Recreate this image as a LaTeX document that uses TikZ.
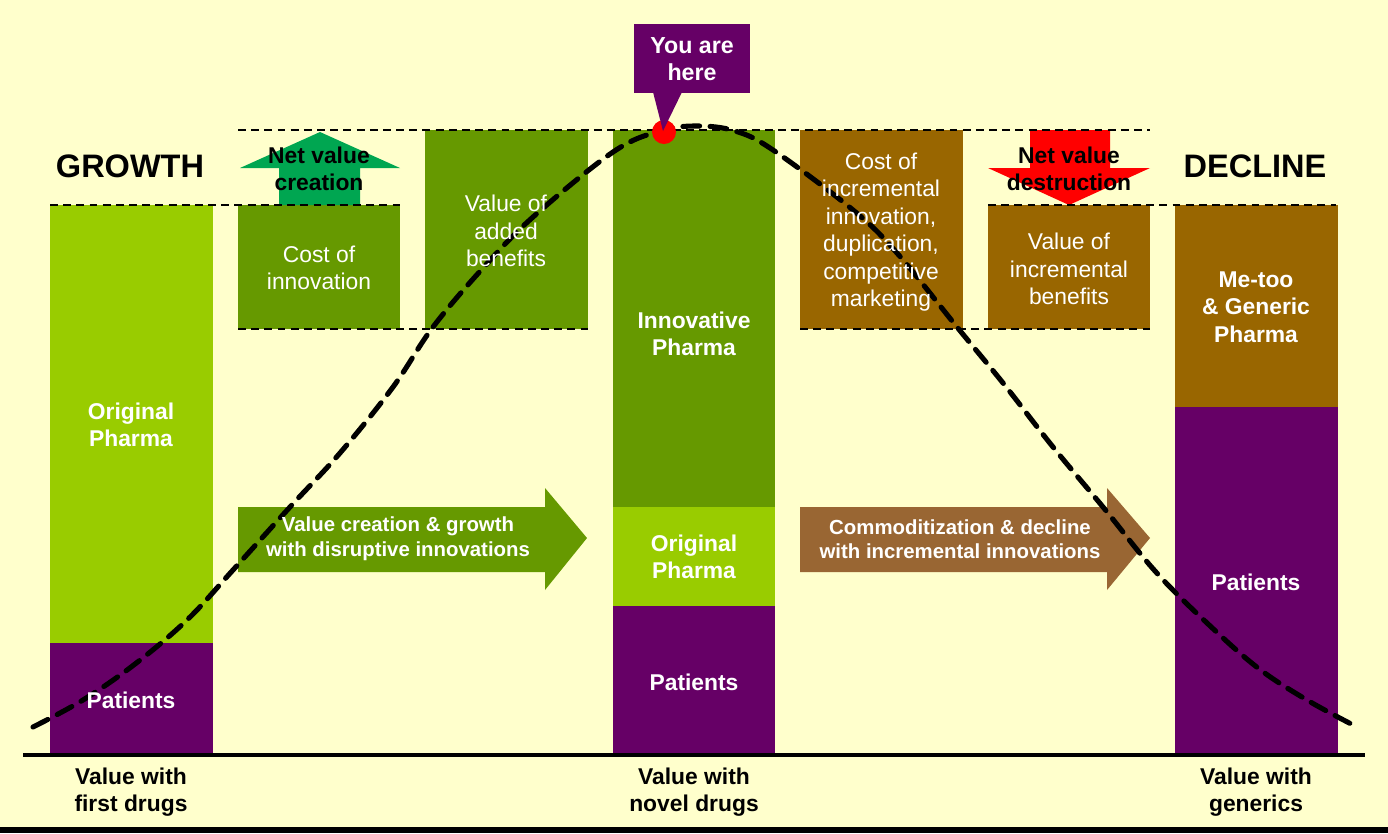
\documentclass[tikz,border=0pt]{standalone}
\usepackage{fontspec}
\setmainfont{Liberation Sans}
\definecolor{bg}{HTML}{FFFFCC}
\definecolor{lgreen}{HTML}{99CC00}
\definecolor{dgreen}{HTML}{669900}
\definecolor{purp}{HTML}{660066}
\definecolor{brn}{HTML}{996600}
\definecolor{brnarrow}{HTML}{996633}
\definecolor{netgreen}{HTML}{00A651}
\tikzset{
  wb/.style={text=white, align=center, font=\fontsize{13}{15.6}\selectfont\bfseries},
  wr/.style={text=white, align=center, font=\fontsize{13}{15.6}\selectfont},
  kb/.style={text=black, align=center, font=\fontsize{13}{15.6}\selectfont\bfseries},
  big/.style={text=black, font=\fontsize{18.5}{22}\selectfont\bfseries},
  aw/.style={text=white, align=center, font=\fontsize{11.6}{14}\selectfont\bfseries},
  thindash/.style={line width=1.1pt, dash pattern=on 4.5pt off 3pt},
  curvedash/.style={line width=2.9pt, dash pattern=on 9.5pt off 6pt, line cap=round}
}
\begin{document}
\begin{tikzpicture}[x=0.02cm, y=-0.02cm]
\fill[bg] (0,0) rectangle (1388,833);
\useasboundingbox (0,0) rectangle (1388,833);
% bottom strip
\fill[black] (0,827) rectangle (1388,833);

% left bar
\fill[lgreen] (50,205) rectangle (213,643);
\fill[purp] (50,643) rectangle (213,755);
% middle bar
\fill[dgreen] (613,130) rectangle (775,507);
\fill[lgreen] (613,507) rectangle (775,606);
\fill[purp] (613,606) rectangle (775,755);
% right bar
\fill[brn] (1175,205) rectangle (1338,407);
\fill[purp] (1175,407) rectangle (1338,755);

% top boxes
\fill[dgreen] (238,205) rectangle (400,329);
\fill[dgreen] (425,130) rectangle (588,329);
\fill[brn] (800,130) rectangle (963,329);
\fill[brn] (988,205) rectangle (1150,329);

% net value arrows
\fill[netgreen] (279,205) -- (279,168) -- (240,168) -- (320,132) -- (400,168) -- (360,168) -- (360,205) -- cycle;
\fill[red] (1030,130) -- (1030,168) -- (988,168) -- (1069,205) -- (1150,168) -- (1110,168) -- (1110,130) -- cycle;

% big arrows
\fill[dgreen] (238,507) -- (545,507) -- (545,488) -- (587,538) -- (545,590) -- (545,572) -- (238,572) -- cycle;
\fill[brnarrow] (800,507) -- (1107,507) -- (1107,488) -- (1150,538) -- (1107,590) -- (1107,572) -- (800,572) -- cycle;

% dashed guide lines
\draw[thindash] (238,130) -- (1150,130);
\draw[thindash] (50,205) -- (400,205);
\draw[thindash] (988,205) -- (1336,205);
\draw[thindash] (238,329) -- (588,329);
\draw[thindash] (800,329) -- (1150,329);

% baseline
\draw[line width=2.6pt] (23,755) -- (1365,755);

% bell curve
\draw[curvedash] plot[smooth, tension=0.6] coordinates {
 (33,727) (83,700) (135,664) (187,620) (233,570) (290,507) (340,453) (393,387) (433,327)
 (483,268) (533,217) (613,152) (660,131) (697,126) (735,131) (773,150) (853,210) (897,253)
 (957,327) (1003,383) (1053,447) (1103,507) (1155,571) (1207,623) (1258,668) (1307,700) (1357,727)};

% you are here
\fill[red] (664,132) circle (12);
\fill[purp] (634,24) rectangle (750,93);
\fill[purp] (653,92) -- (682,92) -- (663,131) -- cycle;
\node[wb, font=\fontsize{13.2}{15.3}\selectfont\bfseries] (here) at (692,59) {You are\\here};

% headings
\node[big] (growth) at (130,166) {GROWTH};
\node[big] (decline) at (1255,166) {DECLINE};

% texts
\node[kb] (nvc) at (319,169) {Net value\\creation};
\node[kb] (nvd) at (1069,169) {Net value\\destruction};
\node[wr] (coi) at (319,268) {Cost of\\innovation};
\node[wr] (vab) at (506,231) {Value of\\added\\benefits};
\node[wr] (cii) at (881,232) {Cost of\\incremental\\innovation,\\duplication,\\competitive\\marketing};
\node[wr] (vib) at (1069,269) {Value of\\incremental\\benefits};
\node[wb] (metoo) at (1256,307) {Me-too\\\& Generic\\Pharma};
\node[wb] (orig1) at (131,425) {Original\\Pharma};
\node[wb] (innov) at (694,334) {Innovative\\Pharma};
\node[wb] (orig2) at (694,557) {Original\\Pharma};
\node[wb] (pat1) at (131,700) {Patients};
\node[wb] (pat2) at (694,682) {Patients};
\node[wb] (pat3) at (1256,582) {Patients};
\node[aw] (ga) at (398,539) {Value creation \& growth\\with disruptive innovations};
\node[aw] (ba) at (960,539) {Commoditization \& decline\\with incremental innovations};
\node[kb] (b1) at (131,792) {Value with\\first drugs};
\node[kb] (b2) at (694,792) {Value with\\novel drugs};
\node[kb] (b3) at (1256,792) {Value with\\generics};
\end{tikzpicture}
\end{document}
